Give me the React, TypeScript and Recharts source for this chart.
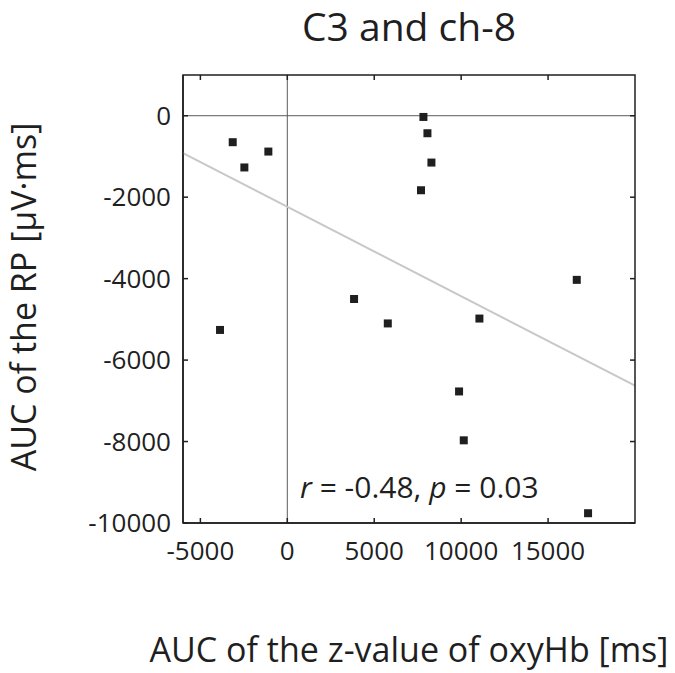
import React from 'react';
import { ScatterChart, Scatter, XAxis, YAxis, ZAxis, ReferenceLine } from 'recharts';

// values
const xValues = [-3140, -2470, -1090, -3870, 7830, 8060, 8290, 7690, 3840, 5780, 11050, 16650, 9880, 10150, 17300];
const yValues = [-650, -1270, -880, -5260, -30, -430, -1150, -1830, -4500, -5100, -4980, -4030, -6770, -7970, -9760];

// regression line endpoints (at the plot edges)
const fitX = [-6000, 20000];
const fitY = [-916, -6629];

const xTicks = [-5000, 0, 5000, 10000, 15000];
const yTicks = [-10000, -8000, -6000, -4000, -2000, 0];
const xDomain = [-6000, 20000];
const yDomain = [-10000, 1000];

const points = xValues.map((x, i) => ({ x, y: yValues[i] }));
const fitPoints = fitX.map((x, i) => ({ x, y: fitY[i] }));

const W = 675;
const H = 673;
const MARGIN = { top: 75, right: 40, bottom: 0, left: 0 };
const X_AXIS_H = 150;
const Y_AXIS_W = 183;
const PLOT = {
    left: MARGIN.left + Y_AXIS_W,
    top: MARGIN.top,
    right: W - MARGIN.right,
    bottom: H - MARGIN.bottom - X_AXIS_H,
};

const INK = '#1f1f1f';
const FONT = '"Open Sans", "Noto Sans", sans-serif';
const TICK_LEN = 5;
const BOTTOM_GAP = 19;
const LEFT_GAP = 12;

// frame tick positions (same linear mapping as the axes)
const sx = (v: number) => PLOT.left + ((v - xDomain[0]) / (xDomain[1] - xDomain[0])) * (PLOT.right - PLOT.left);
const sy = (v: number) => PLOT.top + ((yDomain[1] - v) / (yDomain[1] - yDomain[0])) * (PLOT.bottom - PLOT.top);

const BottomTick = (props: any) => {
    const { x, y, payload } = props;
    return (
        <text x={x} y={y} dy="0.71em" textAnchor="middle" fill={INK} fontSize={26} fontFamily={FONT}>
            {payload.value}
        </text>
    );
};

const LeftTick = (props: any) => {
    const { x, y, payload } = props;
    return (
        <text x={x} y={y} dy="0.355em" textAnchor="end" fill={INK} fontSize={26} fontFamily={FONT}>
            {payload.value}
        </text>
    );
};

const NoMarker = () => <g />;

export default function App() {
    return (
        <div style={{ position: 'absolute', left: 0, top: 0, width: W, height: H, background: '#fff' }}>
            <ScatterChart width={W} height={H} margin={MARGIN}>
                <XAxis
                    type="number"
                    dataKey="x"
                    domain={xDomain}
                    ticks={xTicks}
                    allowDataOverflow
                    height={X_AXIS_H}
                    tick={<BottomTick />}
                    tickLine={false}
                    tickSize={0}
                    tickMargin={BOTTOM_GAP}
                    stroke={INK}
                    strokeWidth={1.5}
                />
                <YAxis
                    type="number"
                    dataKey="y"
                    domain={yDomain}
                    ticks={yTicks}
                    allowDataOverflow
                    width={Y_AXIS_W}
                    tick={<LeftTick />}
                    tickLine={false}
                    tickSize={0}
                    tickMargin={LEFT_GAP}
                    stroke={INK}
                    strokeWidth={1.5}
                />
                <ZAxis range={[56, 56]} />
                <ReferenceLine x={0} stroke="#5a5a5a" strokeWidth={1} />
                <ReferenceLine y={0} stroke="#5a5a5a" strokeWidth={1} />
                <Scatter
                    data={fitPoints}
                    line={{ stroke: '#c8c8c8', strokeWidth: 2 }}
                    lineType="joint"
                    shape={<NoMarker />}
                    isAnimationActive={false}
                />
                <Scatter data={points} shape="square" fill={INK} isAnimationActive={false} />
            </ScatterChart>
            <svg
                width={W}
                height={H}
                style={{ position: 'absolute', left: 0, top: 0, pointerEvents: 'none' }}
                fontFamily={FONT}
                fill={INK}
            >
                {/* box frame with inward ticks on all four sides */}
                <rect
                    x={PLOT.left}
                    y={PLOT.top}
                    width={PLOT.right - PLOT.left}
                    height={PLOT.bottom - PLOT.top}
                    fill="none"
                    stroke={INK}
                    strokeWidth={1.5}
                />
                <g stroke={INK} strokeWidth={1.5}>
                    {xTicks.map((t) => (
                        <g key={`xt${t}`}>
                            <line x1={sx(t)} x2={sx(t)} y1={PLOT.bottom} y2={PLOT.bottom - TICK_LEN} />
                            <line x1={sx(t)} x2={sx(t)} y1={PLOT.top} y2={PLOT.top + TICK_LEN} />
                        </g>
                    ))}
                    {yTicks.map((t) => (
                        <g key={`yt${t}`}>
                            <line x1={PLOT.left} x2={PLOT.left + TICK_LEN} y1={sy(t)} y2={sy(t)} />
                            <line x1={PLOT.right} x2={PLOT.right - TICK_LEN} y1={sy(t)} y2={sy(t)} />
                        </g>
                    ))}
                </g>
                <text x={409} y={41} fontSize={39} textAnchor="middle">C3 and ch-8</text>
                <text x={409} y={662} fontSize={34} textAnchor="middle">AUC of the z-value of oxyHb [ms]</text>
                <text x={36} y={297} fontSize={34} textAnchor="middle" transform="rotate(-90 36 297)">
                    AUC of the RP [μV·ms]
                </text>
                <text x={300} y={498} fontSize={30}>
                    <tspan fontStyle="italic">r</tspan> = -0.48, <tspan fontStyle="italic">p</tspan> = 0.03
                </text>
            </svg>
        </div>
    );
}
